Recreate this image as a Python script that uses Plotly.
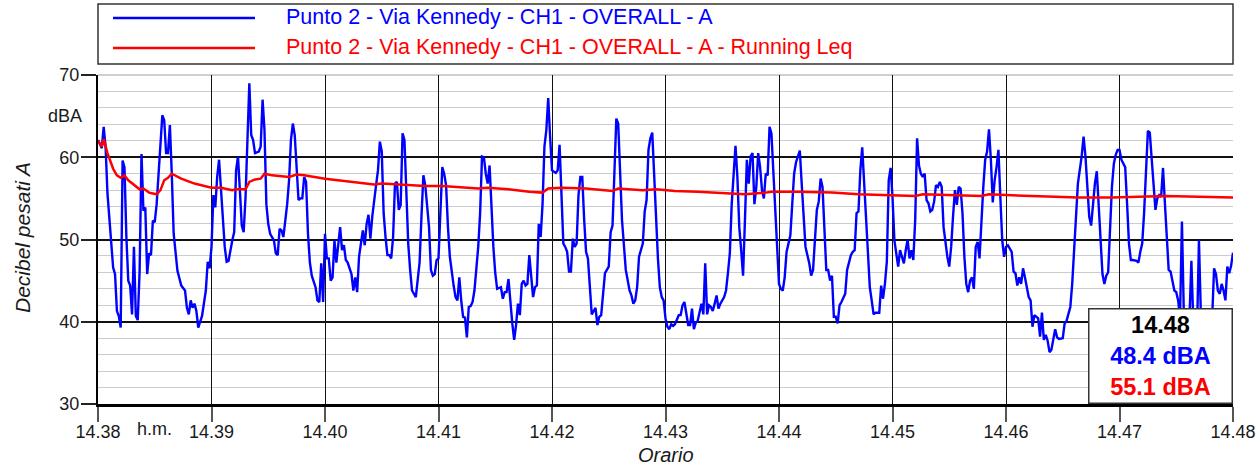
import plotly.graph_objects as go

# ---- data (seconds after 14.38, dBA) ----
t_blue = [
    0, 2, 3, 4, 5, 6, 8, 9, 10, 11,
    12, 13, 14, 15, 16, 17, 18, 19, 20, 21,
    22, 23, 24, 25, 26, 27, 28, 29, 30, 31,
    32, 33, 34, 35, 36, 37, 38, 39, 40, 42,
    44, 46, 47, 48, 49, 50, 51, 52, 53, 55,
    57, 58, 59, 60, 61, 62, 63, 64, 65, 67,
    68, 69, 71, 72, 73, 74, 75, 76, 77, 78,
    79, 80, 81, 82, 83, 85, 86, 87, 88, 89,
    90, 91, 93, 94, 95, 96, 97, 98, 100, 101,
    102, 103, 104, 105, 106, 107, 108, 109, 110, 111,
    112, 113, 115, 116, 117, 118, 119, 120, 121, 122,
    123, 124, 125, 126, 127, 128, 129, 130, 131, 132,
    134, 135, 136, 137, 138, 140, 141, 142, 143, 144,
    145, 146, 147, 148, 149, 150, 151, 152, 153, 154,
    155, 156, 157, 158, 159, 160, 161, 162, 163, 164,
    165, 166, 168, 169, 170, 171, 172, 173, 175, 176,
    177, 178, 179, 180, 181, 182, 183, 184, 185, 186,
    188, 189, 190, 191, 192, 193, 194, 195, 196, 197,
    198, 199, 201, 202, 203, 204, 205, 206, 207, 208,
    209, 210, 211, 213, 214, 215, 216, 217, 218, 219,
    220, 221, 222, 223, 224, 225, 226, 227, 228, 229,
    230, 231, 232, 233, 234, 235, 236, 237, 238, 239,
    240, 242, 243, 244, 245, 246, 247, 248, 249, 250,
    251, 252, 253, 254, 255, 256, 257, 258, 259, 260,
    261, 262, 263, 264, 265, 266, 267, 268, 270, 271,
    272, 273, 274, 275, 276, 277, 279, 280, 281, 282,
    283, 284, 285, 286, 287, 288, 289, 290, 291, 292,
    293, 294, 295, 296, 297, 298, 299, 300, 301, 302,
    303, 304, 305, 306, 307, 308, 309, 310, 311, 312,
    313, 314, 315, 316, 317, 318, 319, 320, 321, 322,
    323, 324, 325, 326, 327, 328, 329, 331, 332, 333,
    334, 335, 336, 337, 338, 339, 340, 341, 342, 343,
    344, 345, 346, 347, 348, 349, 350, 351, 352, 353,
    354, 355, 356, 357, 358, 359, 360, 361, 362, 363,
    364, 365, 366, 367, 368, 369, 370, 371, 372, 373,
    374, 376, 377, 378, 379, 380, 381, 382, 383, 384,
    385, 386, 387, 388, 389, 390, 391, 392, 393, 395,
    396, 398, 399, 400, 401, 402, 403, 404, 405, 406,
    407, 408, 409, 410, 411, 413, 414, 415, 416, 417,
    418, 419, 420, 421, 422, 423, 424, 425, 426, 427,
    428, 429, 430, 431, 432, 433, 434, 435, 436, 437,
    438, 439, 440, 441, 442, 443, 444, 445, 446, 447,
    448, 449, 450, 451, 452, 453, 454, 455, 456, 457,
    458, 459, 460, 461, 462, 463, 464, 465, 466, 467,
    468, 469, 470, 471, 472, 473, 474, 475, 476, 477,
    478, 479, 480, 481, 483, 484, 485, 486, 487, 488,
    489, 490, 491, 492, 493, 494, 495, 496, 497, 498,
    499, 500, 501, 502, 503, 504, 505, 506, 507, 508,
    510, 511, 512, 513, 514, 515, 516, 517, 518, 520,
    521, 522, 523, 524, 525, 526, 527, 528, 529, 530,
    531, 532, 533, 534, 535, 536, 537, 538, 539, 540,
    541, 542, 543, 544, 545, 546, 547, 549, 550, 551,
    552, 553, 554, 555, 556, 557, 558, 559, 560, 561,
    562, 563, 564, 565, 566, 567, 568, 569, 570, 571,
    572, 573, 574, 575, 577, 578, 579, 581, 582, 583,
    585, 587, 589, 590, 591, 592, 593, 594, 595, 596,
    597, 598, 599, 600,
]
v_blue = [
    62.1, 61.1, 63.7, 61.3, 55.6, 52.3, 46.6, 45.8, 41.3, 40.7,
    39.3, 59.6, 58.8, 50.3, 45.0, 44.4, 40.9, 49.1, 40.7, 40.2,
    46.2, 60.4, 53.5, 53.9, 45.8, 48.3, 48.1, 52.3, 52.1, 54.3,
    58.0, 60.3, 65.1, 64.5, 60.5, 60.5, 63.9, 58.0, 50.7, 46.2,
    44.4, 43.8, 41.7, 40.9, 42.6, 41.7, 42.2, 41.3, 39.3, 40.7,
    43.8, 47.3, 46.5, 49.1, 55.4, 53.9, 57.6, 59.7, 56.4, 49.1,
    47.3, 47.4, 49.9, 50.9, 58.4, 60.1, 56.0, 51.7, 50.9, 55.2,
    62.1, 69.0, 62.7, 62.1, 60.5, 60.7, 61.3, 67.0, 63.3, 54.3,
    51.9, 50.7, 49.9, 48.3, 48.1, 51.3, 51.1, 50.3, 54.3, 57.2,
    62.1, 64.1, 62.7, 58.8, 54.8, 55.0, 55.0, 57.6, 57.0, 50.7,
    47.2, 45.6, 44.2, 42.6, 42.4, 47.1, 42.4, 50.7, 47.7, 47.7,
    45.0, 45.4, 49.9, 47.2, 49.1, 51.5, 48.7, 49.3, 47.5, 47.2,
    45.8, 43.8, 45.4, 43.6, 47.9, 51.1, 49.3, 51.9, 53.0, 50.1,
    52.8, 55.0, 56.6, 58.4, 61.9, 60.7, 53.2, 50.3, 48.1, 48.1,
    47.7, 50.3, 56.8, 57.0, 53.6, 54.2, 62.9, 62.1, 54.4, 49.5,
    46.3, 43.8, 43.0, 45.4, 47.2, 52.8, 57.8, 56.6, 51.5, 46.3,
    45.6, 45.8, 47.5, 47.7, 53.9, 58.8, 58.0, 56.6, 51.5, 47.9,
    44.4, 43.0, 42.6, 45.4, 42.6, 40.6, 40.5, 38.1, 41.8, 41.9,
    42.4, 43.8, 49.1, 53.2, 60.1, 60.0, 58.0, 56.8, 59.0, 53.2,
    49.1, 45.9, 44.0, 44.2, 42.8, 43.6, 43.6, 45.2, 42.2, 39.8,
    37.8, 39.6, 42.2, 40.8, 44.6, 45.0, 44.4, 44.6, 48.1, 45.0,
    43.0, 44.2, 44.4, 51.9, 50.3, 54.3, 61.3, 63.3, 67.2, 62.5,
    58.4, 58.1, 58.4, 61.5, 55.6, 49.5, 49.1, 48.5, 46.1, 46.1,
    50.1, 49.1, 49.5, 55.4, 57.6, 57.6, 52.4, 48.5, 47.7, 44.6,
    40.9, 41.3, 41.7, 39.6, 40.6, 40.8, 43.8, 45.9, 46.7, 50.9,
    51.7, 58.4, 64.7, 64.1, 58.8, 52.4, 46.3, 45.0, 43.8, 43.2,
    42.2, 42.6, 44.2, 47.9, 48.7, 49.5, 53.4, 54.8, 60.9, 62.3,
    63.0, 57.2, 51.9, 47.7, 44.2, 43.0, 42.6, 40.4, 39.4, 39.1,
    39.7, 39.5, 39.7, 40.2, 40.8, 40.8, 42.0, 42.4, 40.9, 39.6,
    39.6, 41.6, 39.1, 39.9, 40.1, 41.1, 42.2, 40.9, 47.1, 40.9,
    42.0, 41.8, 41.3, 42.2, 43.2, 41.6, 42.2, 43.0, 43.8, 45.9,
    48.3, 54.3, 58.4, 61.4, 57.6, 51.5, 48.7, 45.6, 52.4, 59.7,
    56.8, 60.1, 60.5, 54.3, 56.4, 60.5, 58.8, 56.0, 55.0, 58.0,
    57.8, 63.7, 62.9, 58.4, 52.4, 47.9, 44.6, 44.0, 43.8, 45.4,
    48.5, 49.5, 50.5, 54.3, 58.0, 59.4, 60.0, 60.8, 56.8, 52.8,
    49.1, 47.1, 45.6, 46.3, 50.3, 53.6, 54.6, 57.4, 56.4, 51.5,
    46.3, 46.3, 45.0, 45.6, 40.6, 40.6, 39.8, 42.0, 42.4, 43.4,
    46.3, 48.1, 48.5, 48.7, 53.2, 53.4, 58.4, 61.2, 57.2, 51.9,
    48.3, 44.2, 42.6, 40.9, 41.1, 41.1, 44.4, 42.8, 44.6, 47.3,
    57.2, 58.7, 55.2, 49.9, 48.3, 46.7, 48.7, 47.9, 47.1, 48.7,
    50.0, 47.7, 48.7, 47.5, 52.4, 62.3, 59.0, 58.0, 57.6, 58.0,
    54.8, 54.4, 53.4, 53.6, 54.6, 56.6, 56.4, 57.0, 56.4, 51.5,
    49.3, 47.9, 46.7, 49.1, 52.8, 56.0, 54.2, 56.4, 56.2, 53.2,
    47.9, 44.6, 43.6, 45.0, 45.4, 44.0, 49.1, 49.7, 47.7, 52.4,
    56.4, 59.7, 60.7, 63.4, 59.7, 54.5, 57.2, 58.8, 60.9, 55.2,
    49.9, 47.9, 49.1, 49.3, 48.5, 46.1, 45.9, 44.4, 45.4, 44.6,
    46.5, 45.4, 44.0, 43.0, 42.6, 39.4, 40.8, 40.6, 40.4, 38.2,
    41.1, 37.8, 38.4, 37.7, 36.3, 36.6, 38.1, 39.1, 38.1, 37.9,
    38.0, 39.8, 40.1, 41.0, 41.8, 44.6, 48.3, 52.8, 56.8, 60.1,
    62.5, 60.1, 56.0, 52.8, 51.7, 54.4, 56.8, 58.3, 54.4, 49.9,
    45.8, 44.6, 45.6, 46.0, 52.0, 56.4, 59.2, 60.3, 60.9, 60.9,
    59.7, 59.2, 58.8, 54.4, 49.5, 47.5, 47.5, 47.4, 47.2, 48.5,
    49.5, 53.2, 58.5, 63.2, 63.0, 60.1, 57.6, 53.6, 55.0, 55.4,
    55.2, 58.7, 54.4, 49.9, 46.3, 46.1, 45.0, 43.8, 43.6, 42.6,
    40.5, 52.2, 41.0, 39.5, 40.5, 47.4, 40.0, 39.0, 49.9, 41.0,
    39.5, 38.5, 40.5, 46.5, 45.8, 43.8, 43.4, 44.6, 43.8, 42.6,
    46.7, 45.9, 46.8, 48.4,
]
t_red = [0, 2, 3, 5, 8, 10, 12, 14, 16, 19,
         22, 24, 27, 31, 33, 35, 37, 39, 44, 51,
         60, 65, 71, 73, 78, 80, 83, 86, 88, 92,
         97, 101, 105, 109, 120, 134, 146, 150, 157, 162,
         173, 182, 192, 201, 206, 217, 228, 235, 238, 245,
         258, 272, 275, 288, 295, 305, 317, 335, 342, 353,
         356, 370, 388, 402, 418, 432, 436, 453, 467, 471,
         480, 506, 518, 536, 554, 557, 564, 600]
v_red = [62.0, 61.3, 62.2, 60.5, 58.6, 57.8, 57.5, 57.8, 57.2, 56.6,
         56.1, 56.2, 55.7, 55.5, 56.0, 57.2, 57.5, 58.0, 57.4, 56.8,
         56.3, 56.3, 56.0, 56.1, 56.1, 57.0, 57.3, 57.4, 58.0, 57.8,
         57.7, 57.6, 57.9, 57.8, 57.4, 57.0, 56.7, 56.8, 56.7, 56.7,
         56.5, 56.5, 56.3, 56.2, 56.3, 56.1, 55.8, 55.7, 56.2, 56.3,
         56.2, 55.9, 56.2, 56.0, 56.1, 55.9, 55.8, 55.6, 55.5, 55.7,
         55.8, 55.8, 55.7, 55.5, 55.4, 55.3, 55.5, 55.4, 55.3, 55.5,
         55.4, 55.2, 55.1, 55.1, 55.2, 55.3, 55.3, 55.1]
assert len(t_blue) == len(v_blue) and len(t_red) == len(v_red)

x_tick_vals = [0, 60, 120, 180, 240, 300, 360, 420, 480, 540, 600]
x_tick_text = ["14.38", "14.39", "14.40", "14.41", "14.42", "14.43",
               "14.44", "14.45", "14.46", "14.47", "14.48"]
y_tick_vals = [30, 40, 50, 60, 70]

name_blue = "Punto 2 - Via Kennedy - CH1 - OVERALL - A"
name_red = "Punto 2 - Via Kennedy - CH1 - OVERALL - A - Running Leq"
cursor_time = "14.48"
cursor_blue = "48.4 dBA"
cursor_red = "55.1 dBA"

BLUE = "#0000ff"
RED = "#ff0000"
FONT = "Arial, Liberation Sans, sans-serif"

fig = go.Figure()
fig.add_trace(go.Scatter(x=t_blue, y=v_blue, mode="lines", name=name_blue,
                         line=dict(color=BLUE, width=2.4)))
fig.add_trace(go.Scatter(x=t_red, y=v_red, mode="lines", name=name_red,
                         line=dict(color=RED, width=2.5)))

W_PLOT = 1135.0
H_PLOT = 329.0

def px_x(p):
    return (p - 98) / W_PLOT

def px_y(p):
    return (404 - p) / H_PLOT

fig.update_layout(
    width=1260, height=470, autosize=False,
    margin=dict(l=98, r=27, t=75, b=66, autoexpand=False),
    paper_bgcolor="white", plot_bgcolor="white",
    showlegend=False,
    font=dict(family=FONT, size=18, color="#1a1a1a"),
    xaxis=dict(range=[0, 600], tickmode="array", tickvals=x_tick_vals,
               ticktext=x_tick_text, showgrid=True, gridcolor="#111111",
               gridwidth=1.4, ticks="outside", ticklen=15, tickcolor="#555555",
               tickwidth=1.5, ticklabelstandoff=-5, automargin=False,
               showline=True, linecolor="#000000", linewidth=2.5,
               zeroline=False, tickfont=dict(size=18, color="#1a1a1a")),
    yaxis=dict(range=[30, 70], tickmode="array", tickvals=y_tick_vals,
               showgrid=True, gridcolor="#111111", gridwidth=1.6,
               minor=dict(dtick=2, tick0=30, showgrid=True, gridcolor="#cccccc",
                          gridwidth=1.2),
               ticks="outside", ticklen=15, tickcolor="#222222", tickwidth=1.5,
               ticklabelstandoff=-2, automargin=False, showline=True,
               linecolor="#000000", linewidth=2, zeroline=False,
               tickfont=dict(size=18, color="#1a1a1a")),
)

shapes = [
    # top border light grey
    dict(type="line", xref="paper", yref="paper", x0=0, x1=1, y0=1, y1=1,
         line=dict(color="#c0c0c0", width=1.5), layer="between"),
    # legend box
    dict(type="rect", xref="paper", yref="paper", x0=0, x1=1,
         y0=px_y(64), y1=px_y(4), line=dict(color="#333333", width=1.5),
         fillcolor="white"),
    dict(type="line", xref="paper", yref="paper", x0=px_x(113), x1=px_x(255),
         y0=px_y(18), y1=px_y(18), line=dict(color=BLUE, width=2.5)),
    dict(type="line", xref="paper", yref="paper", x0=px_x(113), x1=px_x(255),
         y0=px_y(48), y1=px_y(48), line=dict(color=RED, width=2.5)),
]
fig.update_layout(shapes=shapes)

ann = [
    dict(text=name_blue, xref="paper", yref="paper", x=px_x(284), y=px_y(17),
         xanchor="left", yanchor="middle", showarrow=False,
         font=dict(size=21.5, color=BLUE)),
    dict(text=name_red, xref="paper", yref="paper", x=px_x(284), y=px_y(47),
         xanchor="left", yanchor="middle", showarrow=False,
         font=dict(size=21.5, color=RED)),
    dict(text="dBA", xref="paper", yref="y", x=px_x(84), y=65,
         xanchor="right", yanchor="middle", showarrow=False,
         font=dict(size=18, color="#1a1a1a")),
    dict(text="h.m.", xref="x", yref="paper", x=30, y=px_y(429),
         xanchor="center", yanchor="middle", showarrow=False,
         font=dict(size=18, color="#1a1a1a")),
    dict(text="<i>Orario</i>", xref="paper", yref="paper", x=0.5, y=px_y(455),
         xanchor="center", yanchor="middle", showarrow=False,
         font=dict(size=20, color="#1a1a1a")),
    dict(text="<i>Decibel pesati A</i>", xref="paper", yref="paper",
         x=px_x(22), y=px_y(238), xanchor="center", yanchor="middle",
         textangle=-90, showarrow=False, font=dict(size=21, color="#1a1a1a")),
    dict(text=("<b>" + cursor_time + "</b><br>"
               "<b><span style='color:" + BLUE + "'>" + cursor_blue + "</span></b><br>"
               "<b><span style='color:" + RED + "'>" + cursor_red + "</span></b>"),
         xref="paper", yref="paper", x=1, y=0, xanchor="right", yanchor="bottom",
         showarrow=False, width=142, height=93, align="center",
         valign="middle", bgcolor="white", bordercolor="#333333",
         borderwidth=1.5, borderpad=0, font=dict(size=23.5, color="#000000")),
]
fig.update_layout(annotations=ann)

fig.write_html("out.html", config={"displayModeBar": False, "responsive": False},
               default_width="1260px", default_height="470px")

# remove the default page margin so the figure sits at the window origin
with open("out.html", "r", encoding="utf-8") as f:
    html = f.read()
html = html.replace("<head>", "<head><style>html,body{margin:0;padding:0;overflow:hidden;}</style>", 1)
with open("out.html", "w", encoding="utf-8") as f:
    f.write(html)
